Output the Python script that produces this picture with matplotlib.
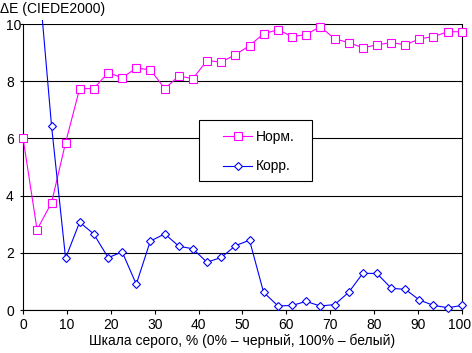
import matplotlib
matplotlib.use("Agg")
import matplotlib.pyplot as plt
from matplotlib.patches import Rectangle
from matplotlib.transforms import Bbox, TransformedBbox, ScaledTranslation

# grey level, % (32 steps)
gray_pct = [0, 3.2, 6.5, 9.7, 12.9, 16.1, 19.4, 22.6, 25.8, 29.0, 32.3,
            35.5, 38.7, 41.9, 45.2, 48.4, 51.6, 54.8, 58.1, 61.3, 64.5,
            67.7, 71.0, 74.2, 77.4, 80.6, 83.9, 87.1, 90.3, 93.5, 96.8, 100]

norm_de = [6.02, 2.81, 3.75, 5.85, 7.74, 7.74, 8.30, 8.12, 8.46, 8.40, 7.74,
           8.18, 8.09, 8.72, 8.67, 8.93, 9.24, 9.66, 9.80, 9.56, 9.63,
           9.91, 9.48, 9.35, 9.17, 9.27, 9.35, 9.27, 9.48, 9.56, 9.73, 9.73]

corr_de = [14.0, 12.3, 6.44, 1.81, 3.07, 2.66, 1.83, 2.03, 0.90, 2.41, 2.66,
           2.23, 2.14, 1.67, 1.84, 2.25, 2.44, 0.62, 0.14, 0.16, 0.30,
           0.14, 0.19, 0.62, 1.28, 1.28, 0.76, 0.72, 0.35, 0.16, 0.08, 0.16]

x_ticks = [0, 10, 20, 30, 40, 50, 60, 70, 80, 90, 100]
y_ticks = [0, 2, 4, 6, 8, 10]

plt.rcParams['font.family'] = ['Liberation Sans', 'DejaVu Sans']
plt.rcParams['font.size'] = 10
tick_font = ['Liberation Sans Narrow', 'Liberation Sans', 'DejaVu Sans']

W, H = 472, 353
fig = plt.figure(figsize=(W / 100, H / 100), dpi=100)
ax = fig.add_axes([23 / W, 1 - 310 / H, 439 / W, 286 / H])

l1, = ax.plot(gray_pct, norm_de, color='#FF00FF', lw=0.8, marker='s', ms=5.6,
              mfc='white', mec='#FF00FF', mew=0.8, label='Норм.', zorder=3)
l2, = ax.plot(gray_pct, corr_de, color='#0000FF', lw=0.8, marker='D', ms=4.2,
              mfc='white', mec='#0000FF', mew=0.8, label='Корр.', zorder=3)
# let edge markers show in full, as in the original
clip = TransformedBbox(Bbox([[-0.012, -0.015], [1.012, 1.015]]), ax.transAxes)
for ln in (l1, l2):
    ln.set_clip_box(clip)

ax.set_xlim(0, 100)
ax.set_ylim(0, 10)
ax.set_xticks(x_ticks)
ax.set_yticks(y_ticks)
ax.yaxis.grid(True, color='black', lw=0.8)
ax.set_axisbelow(True)
for s in ['left', 'bottom', 'right']:
    ax.spines[s].set_linewidth(0.8)
ax.spines['top'].set_visible(False)
ax.tick_params(axis='x', direction='out', length=3, width=0.8, pad=3)
ax.tick_params(axis='y', direction='out', length=2.2, width=0.8, pad=10)
for lab in ax.get_yticklabels():
    lab.set_ha('left')
    lab.set_family(tick_font)
xlabs = ax.get_xticklabels()
for lab in xlabs:
    lab.set_family(tick_font)
# last label sits against the right edge
xlabs[-1].set_transform(xlabs[-1].get_transform() +
                        ScaledTranslation(-2.5 / 100, 0, fig.dpi_scale_trans))

ax.set_xlabel('Шкала серого, % (0% – черный, 100% – белый)', labelpad=1)
fig.text(0, 1 - 9 / H, 'ΔE (CIEDE2000)', ha='left', va='center', fontsize=10)

# legend box
box = Rectangle((199 / W, 1 - 181 / H), 113 / W, 61 / H, transform=fig.transFigure,
                facecolor='white', edgecolor='black', lw=0.8, zorder=4)
ax.add_patch(box)
box.set_clip_on(False)
leg = ax.legend(loc='center left', bbox_to_anchor=(223 / W, 1 - 151.5 / H),
                bbox_transform=fig.transFigure, frameon=False,
                handlelength=2.1, borderpad=0, labelspacing=1.15,
                handletextpad=0.3, borderaxespad=0)
leg.set_zorder(6)

fig.savefig('out.png', dpi=100)
